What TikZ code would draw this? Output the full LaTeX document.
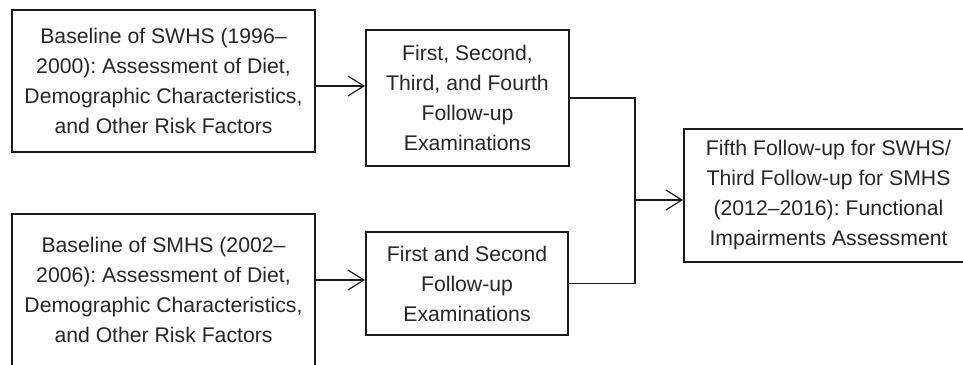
\documentclass[tikz,border=0pt]{standalone}
\usepackage{fontspec}
\setmainfont{Liberation Sans}
\usepackage{xcolor}
\usepackage{tikz}
\usetikzlibrary{arrows.meta, positioning}
\definecolor{inkgray}{HTML}{262626}
\definecolor{linegray}{HTML}{1A1A1A}
\frenchspacing

\begin{document}
\begin{tikzpicture}[x=0.5pt, y=-0.5pt,
        box/.style={draw=linegray, line width=1pt, align=center, inner sep=0pt, text=inkgray, font=\fontsize{10.6}{15}\selectfont},
        link/.style={draw=linegray, line width=0.6pt},
        arr/.style={link, -{Straight Barb[length=8pt, width=10pt]}}]
        \useasboundingbox (0,0) rectangle (963,364);
        \node[box, minimum width=151.5pt, minimum height=71pt] (SW) at (163.5,81) {Baseline of SWHS (1996--\\2000): Assessment of Diet,\\Demographic Characteristics,\\and Other Risk Factors};
        \node[box, minimum width=151.5pt, minimum height=76pt] (SM) at (163.5,290) {Baseline of SMHS (2002--\\2006): Assessment of Diet,\\Demographic Characteristics,\\and Other Risk Factors};
        \node[box, minimum width=101.5pt, minimum height=68pt] (FU1) at (467.5,98) {First, Second,\\Third, and Fourth\\Follow-up\\Examinations};
        \node[box, minimum width=101pt, minimum height=51.5pt] (FU2) at (467,283.5) {First and Second\\Follow-up\\Examinations};
        \node[box, minimum width=144.5pt, minimum height=66.5pt] (FU5) at (828.5,195.5) {Fifth Follow-up for SWHS/\\Third Follow-up for SMHS\\(2012--2016): Functional\\Impairments Assessment};
        \coordinate (J) at (635,200);
        \draw[arr] ([yshift=-2.5pt]SW.east) -- ([yshift=-2.5pt]SW.east -| FU1.west);
        \draw[arr] ([yshift=5pt]SM.east) -- ([yshift=5pt]SM.east -| FU2.west);
        \draw[link] (FU1.east) -| (J) |- (FU2.east);
        \draw[arr] (J) -- (J -| FU5.west);
    \end{tikzpicture}
\end{document}
